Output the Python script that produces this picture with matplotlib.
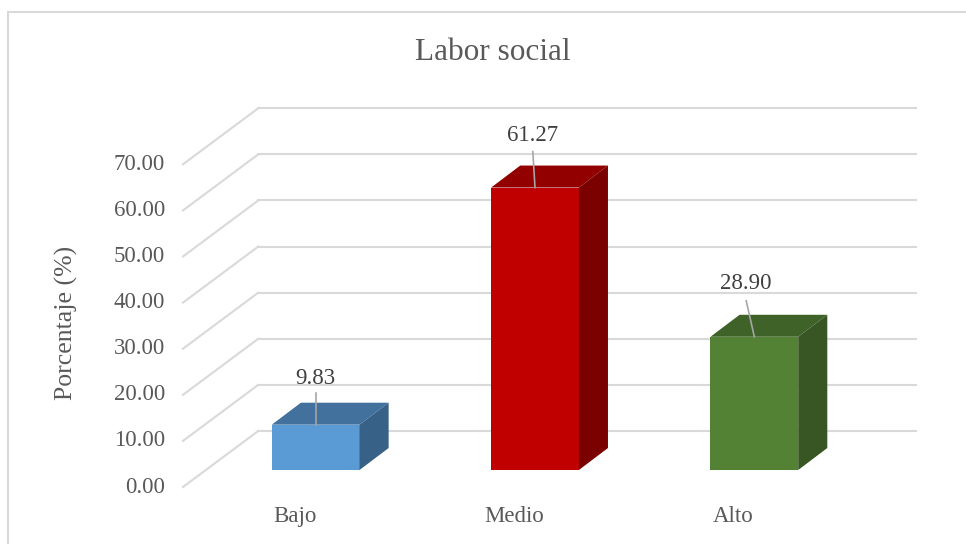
import matplotlib.pyplot as plt
from matplotlib.patches import Polygon, Rectangle

# Datos
categorias = ["Bajo", "Medio", "Alto"]
porcentajes = [9.83, 61.27, 28.90]
marcas_y = [0, 10, 20, 30, 40, 50, 60, 70]
etiquetas_y = [f"{v:.2f}" for v in marcas_y]

# Colores de cada columna: cara frontal, tapa y lateral
frente = ["#5B9BD5", "#C00000", "#548235"]
tapa = ["#41719C", "#920000", "#3F6228"]
lado = ["#386187", "#7B0000", "#375623"]

GRIS_TEXTO = "#595959"
GRIS_REJILLA = "#D9D9D9"
GRIS_GUIA = "#A6A6A6"
FUENTE = "Liberation Serif"
TAM = 16.5

W, H = 966, 544
fig = plt.figure(figsize=(W / 100, H / 100), dpi=100)
fig.patch.set_facecolor("white")

# ejes en el plano frontal de las columnas
ax = fig.add_axes([206 / W, 74 / H, 658 / W, 368.8 / H])
ax.set_xlim(-0.5, 2.5)
ax.set_ylim(0, 80)
ax.axis("off")

# desplazamientos de profundidad (unidades de datos)
prof_x, prof_y = 0.1327, 4.77      # grosor de la columna
fondo_x, fondo_y = 0.238, 8.46     # pared del fondo
piso_x, piso_y = -0.105, -3.69     # borde frontal del piso

x0, x1 = ax.get_xlim()

# rejilla: diagonales del piso lateral + horizontales de la pared del fondo
for v in marcas_y:
    ax.plot([x0 + piso_x, x0 + fondo_x], [v + piso_y, v + fondo_y],
            color=GRIS_REJILLA, lw=1.5, clip_on=False, zorder=1)
    ax.plot([x0 + fondo_x, x1 + fondo_x], [v + fondo_y, v + fondo_y],
            color=GRIS_REJILLA, lw=1.5, clip_on=False, zorder=1)

# etiquetas del eje de valores
for v, etq in zip(marcas_y, etiquetas_y):
    ax.text(x0 + piso_x - 0.082, v + piso_y, etq, ha="right", va="center",
            fontsize=TAM, color=GRIS_TEXTO, family=FUENTE)

# columnas 3D
ancho = 0.4
xs = list(range(len(categorias)))
ax.bar(xs, porcentajes, width=ancho, color=frente, zorder=3, clip_on=False)
for i, v in enumerate(porcentajes):
    izq, der = i - ancho / 2, i + ancho / 2
    ax.add_patch(Polygon([(izq, v), (der, v), (der + prof_x, v + prof_y),
                          (izq + prof_x, v + prof_y)],
                         closed=True, facecolor=tapa[i], edgecolor="none",
                         zorder=3, clip_on=False))
    ax.add_patch(Polygon([(der, 0), (der, v), (der + prof_x, v + prof_y),
                          (der + prof_x, prof_y)],
                         closed=True, facecolor=lado[i], edgecolor="none",
                         zorder=3, clip_on=False))

# etiquetas de datos con línea guía
desp_etq = [0.0, -0.01, -0.037]
alto_guia = [6.9, 7.8, 7.8]
alto_etq = [10.0, 11.3, 11.5]
for i, v in enumerate(porcentajes):
    ax.plot([i, i + desp_etq[i]], [v, v + alto_guia[i]], color=GRIS_GUIA,
            lw=1.2, zorder=4, clip_on=False)
    ax.text(i + desp_etq[i], v + alto_etq[i], f"{v:.2f}", ha="center",
            va="center", fontsize=TAM, color="#404040", family=FUENTE,
            zorder=5)

# categorías sobre el borde del piso
for i, cat in enumerate(categorias):
    ax.text(i - 0.096, -10, cat, ha="center", va="center",
            fontsize=TAM, color=GRIS_TEXTO, family=FUENTE)

# título y rótulo del eje
fig.text(493 / W, 1 - 52 / H, "Labor social", ha="center", va="center",
         fontsize=22.5, color=GRIS_TEXTO, family=FUENTE)
fig.text(66 / W, 1 - 323 / H, "Porcentaje (%)", ha="center", va="center",
         rotation=90, fontsize=18.5, color=GRIS_TEXTO, family=FUENTE)

# marco del gráfico
fig.patches.append(Rectangle((8 / W, -0.1), 1.2, 1.1 - 12 / H,
                             transform=fig.transFigure, fill=False,
                             edgecolor=GRIS_REJILLA, lw=1.5))

fig.savefig("out.png", dpi=100)
